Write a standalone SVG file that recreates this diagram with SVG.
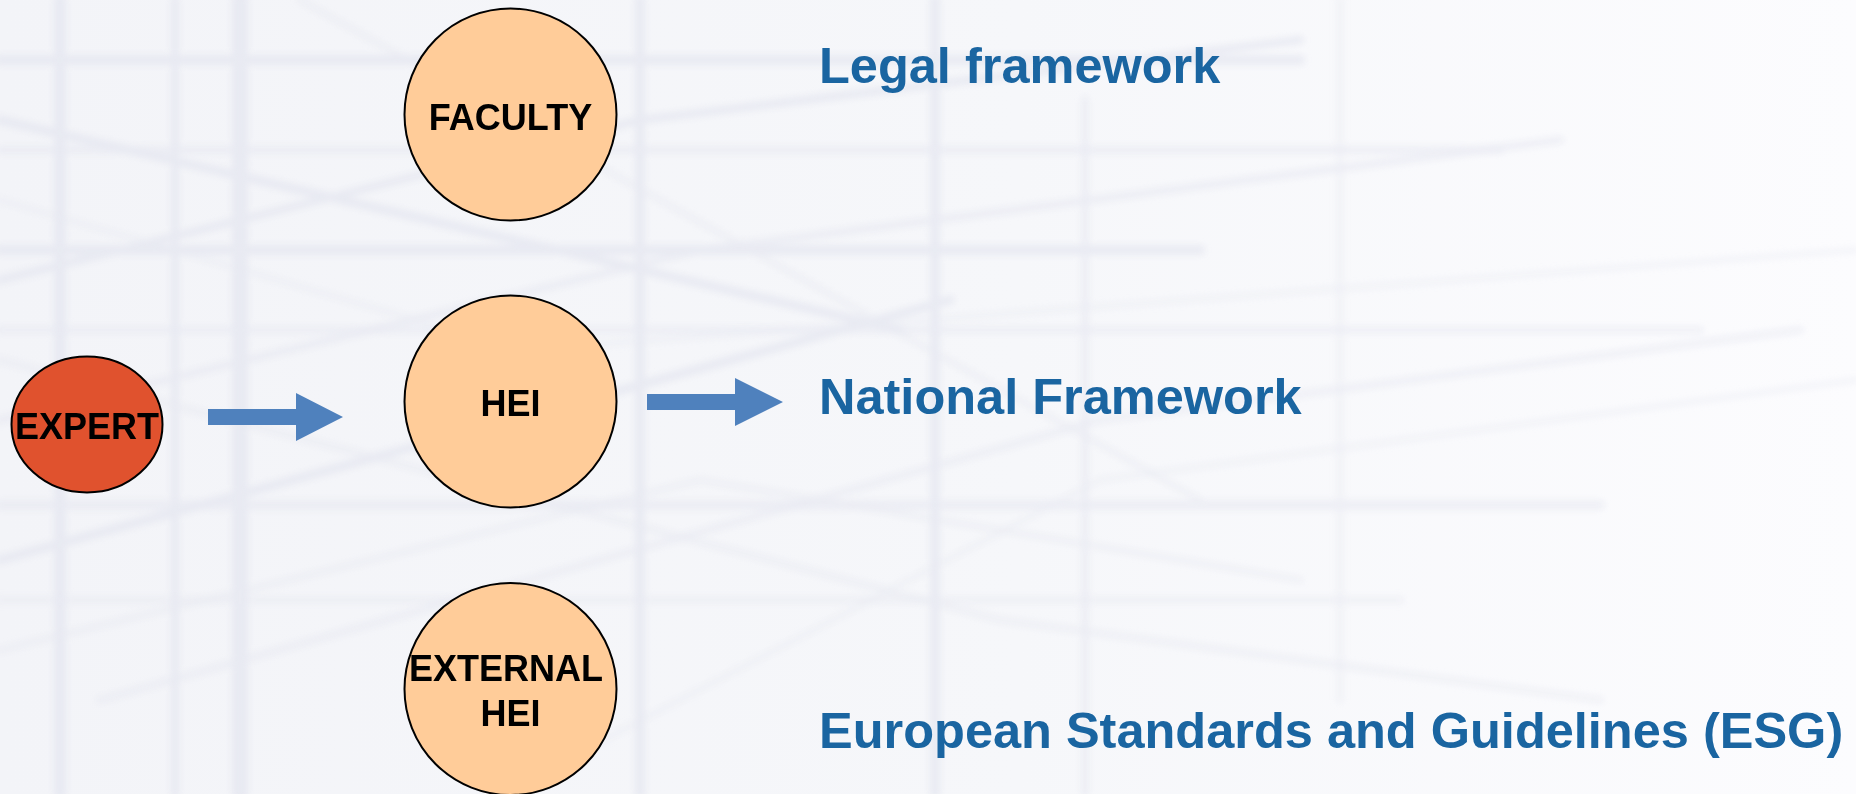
<svg xmlns="http://www.w3.org/2000/svg" width="1856" height="794" viewBox="0 0 1856 794">
  <defs>
    <linearGradient id="bgfade" x1="0" y1="0" x2="1" y2="0">
      <stop offset="0" stop-color="#F3F4F8"/>
      <stop offset="0.55" stop-color="#F6F7FA"/>
      <stop offset="1" stop-color="#FCFCFE"/>
    </linearGradient>
    <filter id="soft" x="-5%" y="-5%" width="110%" height="110%">
      <feGaussianBlur stdDeviation="3"/>
    </filter>
    <style>
      .bgl { stroke: #E1E3EE; fill: none; stroke-linecap: round; }
      .node { stroke: #000; stroke-width: 2; }
      .peach { fill: #FFCC99; }
      .red { fill: #E0522E; }
      .nlabel { font-family: "Liberation Sans", Arial, sans-serif; font-weight: bold; font-size: 36px; fill: #000; text-anchor: middle; }
      .side { font-family: "Liberation Sans", Arial, sans-serif; font-weight: bold; font-size: 50.5px; fill: #1A65A1; }
      .arrow { fill: #4F81BD; }
    </style>
  </defs>

  <g id="background">
    <rect x="0" y="0" width="1856" height="794" fill="url(#bgfade)"/>
    <g opacity="0.6" filter="url(#soft)">
      <path class="bgl" stroke-width="12" d="M60 0 V794"/>
      <path class="bgl" stroke-width="8" d="M175 0 V794"/>
      <path class="bgl" stroke-width="16" d="M240 0 V794"/>
      <path class="bgl" stroke-width="10" d="M640 0 V794"/>
      <path class="bgl" stroke-width="10" d="M935 0 V794"/>
      <path class="bgl" stroke-width="8" d="M1085 100 V794" opacity="0.7"/>
      <path class="bgl" stroke-width="8" d="M1340 0 V700" opacity="0.4"/>
      <path class="bgl" stroke-width="10" d="M0 60 H1300"/>
      <path class="bgl" stroke-width="8" d="M0 150 H1500" opacity="0.7"/>
      <path class="bgl" stroke-width="10" d="M0 250 H1200"/>
      <path class="bgl" stroke-width="8" d="M0 330 H1700" opacity="0.6"/>
      <path class="bgl" stroke-width="10" d="M0 505 H1600" opacity="0.7"/>
      <path class="bgl" stroke-width="8" d="M0 600 H1400" opacity="0.5"/>
      <path class="bgl" stroke-width="9" d="M0 120 L900 330"/>
      <path class="bgl" stroke-width="8" d="M0 280 L640 120 L1300 40"/>
      <path class="bgl" stroke-width="8" d="M0 420 L700 250 L1560 140" opacity="0.7"/>
      <path class="bgl" stroke-width="9" d="M0 560 L950 300"/>
      <path class="bgl" stroke-width="8" d="M100 700 L1100 420 L1800 330" opacity="0.6"/>
      <path class="bgl" stroke-width="8" d="M0 360 L1000 620 L1600 700" opacity="0.5"/>
      <path class="bgl" stroke-width="7" d="M300 0 L1200 500" opacity="0.5"/>
      <path class="bgl" stroke-width="7" d="M500 794 L1100 480 L1856 380" opacity="0.4"/>
      <path class="bgl" stroke-width="7" d="M0 200 L520 350 L1856 250" opacity="0.4"/>
      <path class="bgl" stroke-width="7" d="M0 650 L700 480 L1300 580" opacity="0.5"/>
    </g>
  </g>

  <g id="connectors">
    <path id="arrow-expert-hei" class="arrow" d="M208 409 H296 V393 L343 417 L296 441 V425 H208 Z"/>
    <path id="arrow-hei-national" class="arrow" d="M647 394 H735 V378 L783 402 L735 426 V410 H647 Z"/>
  </g>

  <g id="node-faculty">
    <ellipse class="node peach" cx="510.5" cy="114.5" rx="106" ry="106"/>
    <text class="nlabel" x="510.5" y="129.5">FACULTY</text>
  </g>

  <g id="node-hei">
    <ellipse class="node peach" cx="510.5" cy="401.5" rx="106" ry="106"/>
    <text class="nlabel" x="510.5" y="415.5">HEI</text>
  </g>

  <g id="node-external-hei">
    <ellipse class="node peach" cx="510.5" cy="689" rx="106" ry="106"/>
    <text class="nlabel" x="506" y="680.5">EXTERNAL</text>
    <text class="nlabel" x="510.5" y="726">HEI</text>
  </g>

  <g id="node-expert">
    <ellipse class="node red" cx="87" cy="424.5" rx="75.5" ry="68"/>
    <text class="nlabel" x="87" y="439">EXPERT</text>
  </g>

  <g id="label-legal">
    <text class="side" x="819" y="83">Legal framework</text>
  </g>
  <g id="label-national">
    <text class="side" x="819" y="414">National Framework</text>
  </g>
  <g id="label-esg">
    <text class="side" x="819" y="748">European Standards and Guidelines (ESG)</text>
  </g>
</svg>
